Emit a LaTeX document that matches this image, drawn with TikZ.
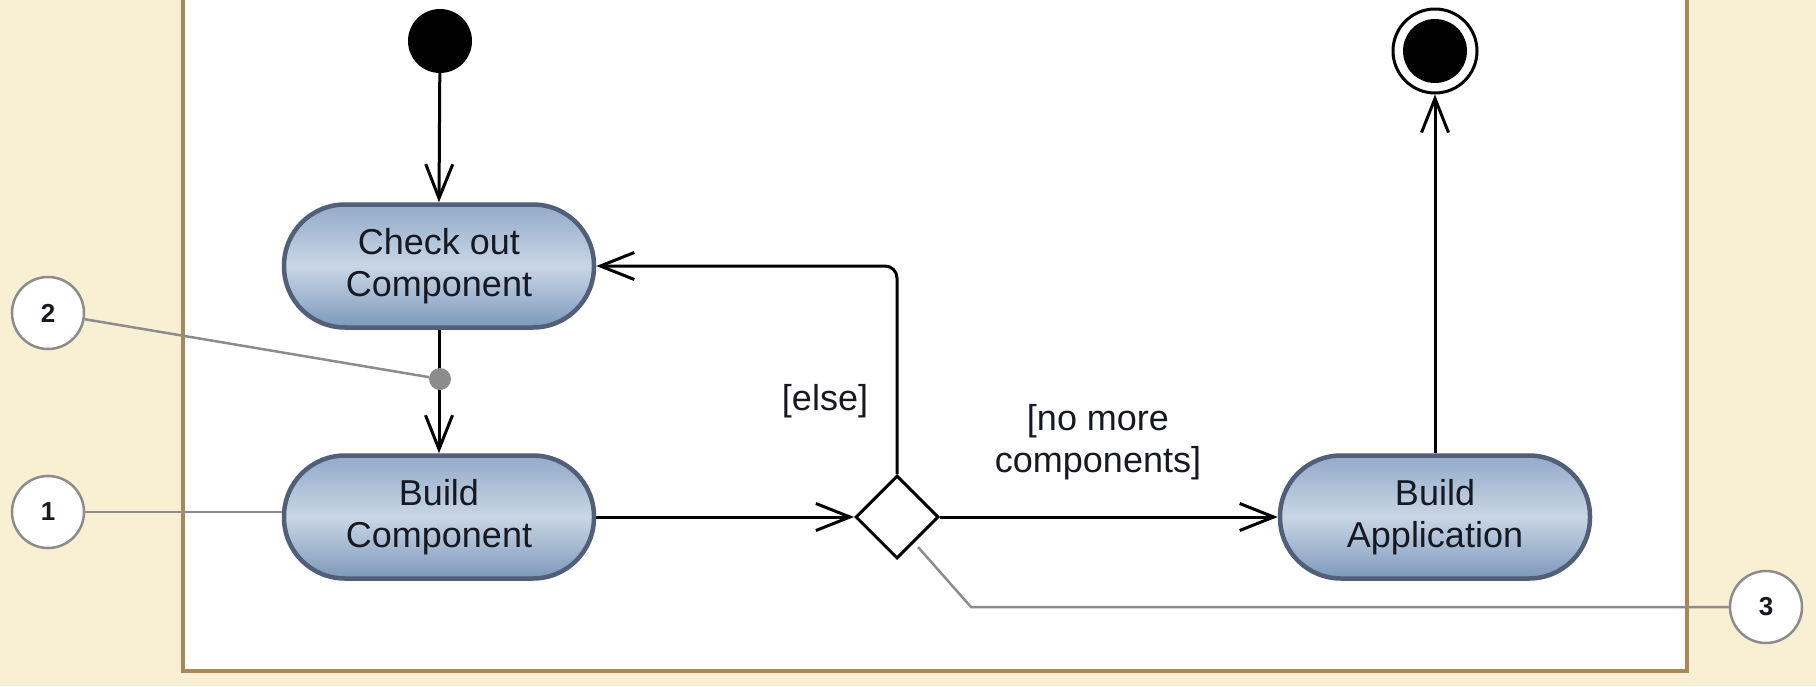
\documentclass[tikz,border=0pt]{standalone}
\usepackage{fontspec}
\setmainfont{Liberation Sans}
\usetikzlibrary{arrows.meta,shapes.geometric}

\definecolor{paper}{HTML}{F9EFD3}
\definecolor{framebrown}{HTML}{A8885A}
\definecolor{actborder}{HTML}{515F79}
\definecolor{acttop}{HTML}{93AACA}
\definecolor{actmid}{HTML}{C9D6E5}
\definecolor{actbot}{HTML}{7D98BB}
\definecolor{notegray}{HTML}{8C8C8C}
\definecolor{inktext}{HTML}{161922}

\tikzset{
  activity/.style={rectangle, rounded corners=61pt, minimum width=310pt,
    minimum height=123pt, line width=4.5pt, draw=actborder,
    top color=acttop, bottom color=actbot, middle color=actmid,
    align=center, text=inktext, inner sep=0pt,
    font=\fontsize{36}{42}\selectfont},
  flow/.style={line width=3pt, black,
    -{Straight Barb[length=34pt,width=27pt,line width=3pt]}},
  decision/.style={diamond, draw=black, fill=white, line width=3pt,
    minimum width=83pt, minimum height=83pt, inner sep=0pt},
  guard/.style={align=center, text=inktext, inner sep=0pt,
    font=\fontsize{36}{42}\selectfont},
  callout/.style={circle, draw=notegray, fill=white, line width=2.5pt,
    minimum size=72pt, inner sep=0pt, text=inktext,
    font=\bfseries\fontsize{26}{28}\selectfont},
  calloutline/.style={draw=notegray, line width=2.5pt},
}

\begin{document}
\begin{tikzpicture}[x=1pt, y=-1pt]
  % page and activity frame
  \fill[paper] (0,0) rectangle (1816,686);
  \useasboundingbox (0,0) rectangle (1816,686);
  \draw[framebrown, line width=4pt, fill=white] (183,-20) rectangle (1687,671);

  % initial and final nodes
  \node[circle, fill=black, minimum size=64pt, inner sep=0pt] (start) at (440,41) {};
  \node[circle, draw=black, line width=3pt, fill=white, minimum size=84pt, inner sep=0pt] (final) at (1435,51) {};
  \fill[black] (final.center) circle (32pt);

  % actions
  \node[activity] (checkout) at (439,266) {Check out\\Component};
  \node[activity] (buildcomp) at (439,517) {Build\\Component};
  \node[activity] (buildapp) at (1435,517) {Build\\Application};
  \node[decision] (choice) at (897,517) {};

  % control flows
  \draw[flow] (start) -- (checkout.north);
  \draw[flow] (checkout.south) -- (buildcomp.north);
  \draw[flow] (buildcomp.east) -- (choice.west);
  \draw[flow] (choice.east) -- (buildapp.west);
  \draw[flow, rounded corners=12pt] (choice.north) |- (checkout.east);
  \draw[flow] (buildapp.north) -- (final.south);

  % guards
  \node[guard] (elseg) at (825,401) {[else]};
  \node[guard] (nomore) at (1098,442) {[no more\\components]};

  % numbered callouts
  \node[circle, fill=notegray, minimum size=22pt, inner sep=0pt] (flowdot) at (440,379) {};
  \node[callout] (c1) at (48,512) {1};
  \node[callout] (c2) at (48,313) {2};
  \node[callout] (c3) at (1766,607) {3};
  \coordinate (c3start) at (918,547);
  \coordinate (c3bend) at (971,607);

  \draw[calloutline] (c1) -- (buildcomp.west |- c1);
  \draw[calloutline] (c2) -- (flowdot);
  \draw[calloutline] (c3start) -- (c3bend) -- (c3);
\end{tikzpicture}
\end{document}
